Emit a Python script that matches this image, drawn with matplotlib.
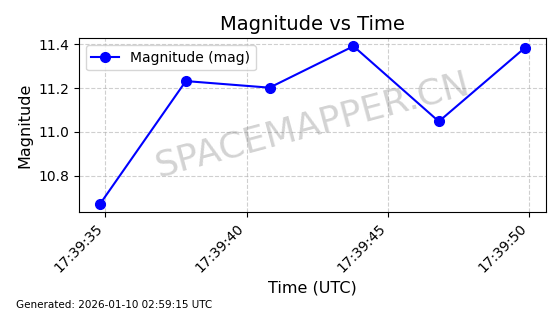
import matplotlib
matplotlib.use("Agg")
import matplotlib.pyplot as plt
import matplotlib.dates as mdates
import pandas as pd

times = pd.to_datetime([
    "2026-01-10 17:39:34.82",
    "2026-01-10 17:39:37.85",
    "2026-01-10 17:39:40.81",
    "2026-01-10 17:39:43.78",
    "2026-01-10 17:39:46.80",
    "2026-01-10 17:39:49.83",
])
magnitudes = [10.673, 11.232, 11.202, 11.391, 11.048, 11.382]

title = "Magnitude vs Time"
footer = "Generated: 2026-01-10 02:59:15 UTC"
watermark = "SPACEMAPPER.CN"

fig, ax = plt.subplots(figsize=(5.6, 3.14), dpi=100)
fig.subplots_adjust(left=0.141, right=0.9745, top=0.878, bottom=0.326)

ax.plot(times, magnitudes, color="blue", marker="o", markersize=7,
        linewidth=1.5, label="Magnitude (mag)")

ax.xaxis.set_major_locator(mdates.SecondLocator(bysecond=range(0, 60, 5)))
ax.xaxis.set_major_formatter(mdates.DateFormatter("%H:%M:%S"))
plt.setp(ax.get_xticklabels(), rotation=45, ha="right")

ax.tick_params(labelsize=10)
ax.set_xlabel("Time (UTC)", fontsize=11.5)
ax.set_ylabel("Magnitude", fontsize=11.5)
ax.set_title(title, fontsize=14)
ax.grid(True, linestyle="--", color="#b0b0b0", alpha=0.6, linewidth=0.8)
ax.legend(loc="upper left", fontsize=10)

# Watermark across the plot area
ax.text(0.5, 0.5, watermark, transform=ax.transAxes, fontsize=26,
        color="gray", alpha=0.35, rotation=15, ha="center", va="center")

fig.text(0.029, 0.03, footer, fontsize=7.5, ha="left", va="center")

fig.savefig("out.png", dpi=100)
